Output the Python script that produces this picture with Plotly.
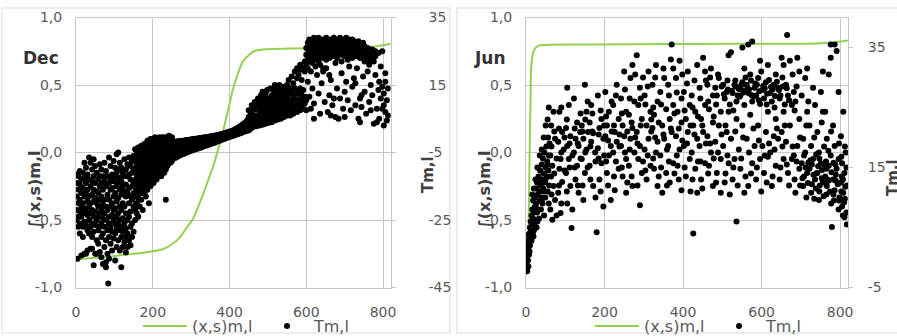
import plotly.graph_objects as go

W, H = 897, 343   # page window is 336 tall; the bottom strip (legend) is cut off as in the reference

# ---------------- data ----------------
x_ticks = [0, 200, 400, 600, 800]
left_ticks = [-1.0, -0.5, 0.0, 0.5, 1.0]
left_tick_text = ["-1,0", "-0,5", "0,0", "0,5", "1,0"]
dec_right_ticks = [-45, -25, -5, 15, 35]
jun_right_ticks = [-5, 15, 35]

# green curve  (x,s)m,l  (left axis)
dec_line_x = [0, 60, 130, 180, 227, 250, 270, 290, 305, 320, 335, 350, 360, 370, 380,
              390, 400, 410, 420, 436, 450, 462, 480, 500, 560, 640, 720, 760, 790, 820]
dec_line_y = [-0.79, -0.778, -0.756, -0.74, -0.715, -0.68, -0.63, -0.55, -0.49, -0.39,
              -0.28, -0.16, -0.08, 0.02, 0.12, 0.24, 0.36, 0.48, 0.57, 0.68, 0.72, 0.748,
              0.76, 0.765, 0.77, 0.772, 0.775, 0.778, 0.79, 0.806]

jun_line_x = [0, 3, 5.5, 7, 8.5, 10, 11.5, 12.7, 15, 18.6, 24, 31, 50, 150, 350, 550,
              740, 780, 820]
jun_line_y = [-0.88, -0.82, -0.7, -0.45, -0.15, 0.15, 0.38, 0.6, 0.69, 0.744, 0.775,
              0.79, 0.797, 0.8, 0.803, 0.806, 0.808, 0.815, 0.83]

# black dots Tm,l (right axis), grouped as (x, [values at that x])
dec_dot_groups = [
    (2, [-11.5, -14, -18, -22, -25]), (4, [-36.5]), (6, [-12, -16, -20, -24, -27]),
    (10, [-10.5, -14.5, -19, -22.5, -26, -29]), (14, [-13, -17, -21, -24, -35.5]),
    (18, [-11, -15.5, -20, -23, -27, -30]), (22, [-8, -12.5, -18, -21.5, -25.5, -35]),
    (26, [-9.5, -14, -17, -22, -26.5, -35]), (30, [-11.5, -16, -19.5, -23.5, -28, -34]),
    (34, [-6.5, -13, -18, -21, -25, -29]), (38, [-8, -15, -20, -23, -27, -33.5]),
    (42, [-10, -13.5, -17.5, -22, -26, -30, -33.5]), (46, [-7, -12, -16, -19.5, -24, -28.5, -38.4]),
    (50, [-9, -14, -18.5, -22.5, -26.5, -35]), (54, [-11, -16.5, -20, -25, -31, -35]),
    (58, [-13, -17, -21, -24, -28, -32]), (62, [-8.5, -12, -15, -19, -23, -27, -34.5]),
    (66, [-10, -14, -18, -22, -26, -30, -36]), (70, [-12, -16, -20.5, -24.5, -29, -38]),
    (74, [-8, -13.5, -19, -23, -27, -33]), (78, [-10.5, -15, -21, -25, -31, -39, -37.5]),
    (82, [-12, -17.5, -22, -28, -35]), (84, [-43.8]), (86, [-6.5, -14, -19, -24, -26, -30, -36.5]),
    (90, [-9, -13, -16, -21, -27, -32]), (94, [-11.5, -15.5, -20, -23.5, -28.5, -34]),
    (98, [-7.5, -13.5, -18, -22, -25, -30.5]), (102, [-9.5, -12.5, -17, -21.5, -26, -29, -37]),
    (106, [-5.5, -11, -15, -19.5, -24, -27.5, -33]), (110, [-5, -10, -14, -18.5, -23, -26.5, -31]),
    (114, [-8, -12.5, -16, -21, -25, -28, -34]), (118, [-9.5, -13.5, -17.5, -22, -27, -30, -39]),
    (122, [-11, -15, -20, -24.5, -28.5, -33]), (126, [-7, -12, -16.5, -21, -26, -31.5]),
    (130, [-10, -14.5, -18, -23, -27.5, -30, -34.6]), (134, [-8.5, -12, -17, -25, -29, -33]),
    (138, [-6.5, -11.5, -15.5, -20, -24, -31]), (142, [-9, -13, -18, -22.5, -27, -32.5]),
    (146, [-7.5, -11, -15, -19, -26, -30]), (150, [-6, -10, -14, -17, -21, -28.5]),
    (154, [-4, -7.5, -11, -14.5, -18, -22, -25]), (156, [-6, -9.5, -13, -16.5, -20.5]),
    (158, [-5.5, -9, -12.5, -16, -20, -23]), (160, [-4.5, -7, -10, -13.5, -17, -21]),
    (162, [-3.5, -8, -11.5, -15, -18.5, -24]), (164, [-5, -8, -11, -14, -19]),
    (166, [-6, -9.5, -13, -17, -21]), (168, [-4.5, -7.5, -11, -14.5]),
    (170, [-3, -6, -9, -12, -15.5, -19]), (172, [-4, -7.5, -10.5, -13.5, -17]),
    (174, [-4.5, -7.5, -10.5, -14, -17, -22]), (176, [-3.5, -6.5, -9.5, -12.5]),
    (178, [-2.5, -6, -9, -12, -15.5]), (180, [-4.5, -7, -10.5, -13.5, -16.5]),
    (182, [-3.5, -5.5, -8, -11, -14, -18]), (184, [-2.5, -6.5, -9.5, -12.5]),
    (186, [-1.5, -4.5, -7, -9.5, -12.5, -16]), (188, [-3, -6, -8.5, -11, -14.5]),
    (190, [-2.5, -5, -7.5, -10, -13, -20]), (192, [-2, -4.5, -7, -9, -12]),
    (194, [-1, -3.5, -6, -8.5, -11.5, -15]), (196, [-3, -5.5, -8, -10.5, -13.5]),
    (198, [-2, -4.5, -7, -9.5, -12.5]), (200, [-1, -3, -6, -8.5, -11]),
    (202, [-1.5, -3.5, -5.5, -8, -10.5, -14]), (204, [-2.5, -4.5, -6.5, -9]),
    (206, [-0.5, -2.5, -4.5, -7, -9.5, -12]), (208, [-1.5, -3.5, -6, -8.5, -11]),
    (210, [-1.5, -3.5, -5.5, -7.5, -10, -13]), (212, [-2, -4.5, -6.5, -8.5]),
    (214, [-1, -3, -5, -7, -9, -11.5]), (216, [-1.5, -3.5, -5.5, -8, -10]),
    (218, [-0.5, -2.5, -4.5, -6.5, -8.5, -11]), (220, [-2, -4, -6, -8]),
    (222, [-1, -3, -5, -7, -9, -12]), (224, [-1.5, -3.5, -5.5, -7.5, -9.5]),
    (226, [-0.5, -2, -4, -6, -8, -10.5]), (228, [-1.5, -3, -5, -7]),
    (230, [-1, -2.5, -4.5, -6.5, -8.5, -11]), (232, [-1.5, -3.5, -5.5, -7.5, -9.5]),
    (234, [-0.5, -2, -4, -6, -8, -10, -19]), (236, [-1.5, -3.5, -5, -7]),
    (238, [-1, -3, -5, -7, -9]), (240, [-0.5, -2.5, -4.5, -6.5, -8.5]),
    (242, [0, -1.5, -3.5, -5.5, -7.5]), (244, [-1.5, -3, -5, -7]),
    (246, [-1, -2.5, -4.5, -6.5, -8]), (248, [-1, -3, -4.5, -6.5]),
    (250, [-0.5, -2, -3.5, -5.5, -7.5]),
    (254, [-6.8, -5.7, -4.6, -3.4, -2.2]), (258, [-6.6, -5.4, -4.3, -3.3, -2.3]),
    (262, [-6.4, -5.2, -4.1, -2.9, -1.7]), (266, [-6.1, -5, -3.9, -3, -2]),
    (270, [-5.9, -4.8, -3.7, -2.6, -1.6]), (274, [-5.6, -4.6, -3.6, -2.7, -1.8]),
    (278, [-5.5, -4.4, -3.4, -2.4, -1.5]), (282, [-5.3, -4.3, -3.3, -2.4, -1.6]),
    (286, [-5.1, -4.1, -3.1, -2.2, -1.3]), (290, [-4.9, -4, -3, -2.2, -1.5]),
    (294, [-4.7, -3.7, -2.8, -2, -1.2]), (298, [-4.5, -3.6, -2.7, -2, -1.3]),
    (302, [-4.4, -3.4, -2.5, -1.7, -1]), (306, [-4.2, -3.3, -2.4, -1.7, -1.1]),
    (310, [-4.1, -3.2, -2.3, -1.6, -0.9]), (314, [-3.9, -3, -2.2, -1.6, -1]),
    (318, [-3.8, -2.9, -2, -1.4, -0.8]), (322, [-3.6, -2.7, -1.9, -1.3, -0.7]),
    (326, [-3.5, -2.6, -1.8, -1.3, -0.8]), (330, [-3.3, -2.5, -1.7, -1.1, -0.6]),
    (334, [-3.1, -2.3, -1.6, -1, -0.5]), (338, [-3, -2.2, -1.5, -1, -0.6]),
    (342, [-2.8, -2.1, -1.4, -0.9, -0.4]), (346, [-2.7, -2, -1.3, -0.8, -0.4]),
    (350, [-2.5, -1.8, -1.2, -0.7, -0.2]), (354, [-2.3, -1.7, -1.1, -0.6, -0.2]),
    (358, [-2.2, -1.6, -1, -0.5, 0]), (362, [-2, -1.4, -0.9, -0.4, 0]),
    (366, [-1.8, -1.3, -0.8, -0.3, 0.1]), (370, [-1.7, -1.2, -0.7, -0.2, 0.2]),
    (374, [-1.5, -1, -0.6, -0.1, 0.3]), (378, [-1.3, -0.8, -0.4, 0, 0.4]),
    (382, [-1.1, -0.7, -0.3, 0.1, 0.5]), (386, [-1, -0.5, -0.1, 0.3, 0.7]),
    (390, [-0.8, -0.3, 0.1, 0.5, 0.8]), (394, [-0.6, -0.2, 0.2, 0.6, 1]),
    (398, [-0.4, 0, 0.4, 0.8, 1.1]), (402, [-0.3, 0.1, 0.5, 0.9, 1.3]),
    (406, [-0.1, 0.3, 0.7, 1.1, 1.4]), (410, [0, 0.4, 0.8, 1.2, 1.6]),
    (414, [0.2, 0.6, 1, 1.4, 1.8]), (418, [0.3, 0.8, 1.2, 1.7, 2.1]),
    (422, [0.5, 1, 1.4, 1.9, 2.3]), (426, [0.6, 1.1, 1.6, 2.1, 2.6]),
    (430, [0.8, 1.3, 1.8, 2.4, 2.9]), (434, [1, 1.5, 2.1, 2.7, 3.3]),
    (438, [1.2, 1.8, 2.3, 3, 3.6]), (442, [1.3, 2, 2.6, 3.3, 4]),
    (446, [1.6, 2.2, 2.9, 3.7, 4.5]), (450, [1.5, 3.5, 5.5, 7.5]),
    (454, [2, 4, 6]), (458, [2.3, 4.5, 7, 9]), (462, [2.6, 5, 7.5]),
    (466, [3, 4, 6, 8.5, 10]), (470, [2.8, 5.5, 8]), (474, [3.5, 6, 9, 11]),
    (478, [3, 4.5, 7, 10]), (482, [3.8, 6, 8.5, 12]), (486, [3.2, 5, 7.5, 10.5, 13]),
    (490, [4, 6.5, 9, 11.5]), (494, [3.5, 5.5, 8, 12.5]), (498, [4.2, 7, 10, 13.5]),
    (502, [3.8, 6, 8.5, 11]), (506, [4.5, 7.5, 10.5, 14]), (510, [4, 6, 9, 12]),
    (514, [5, 8, 11, 13.5]), (518, [4.5, 6.5, 9.5, 12.5, 15]), (522, [5.2, 7.5, 10, 14]),
    (526, [4.8, 8.5, 11.5, 13]), (530, [5.5, 7, 9.5, 12.5, 15]), (534, [5, 8, 10.5, 14]),
    (538, [6, 7.5, 11, 13]), (542, [5.5, 9, 12, 14.5]), (546, [6.5, 8, 10, 13.5]),
    (550, [6, 8.5, 11.5, 15]), (554, [7, 9.5, 12.5, 16.5]), (558, [6, 8, 10.5, 14]),
    (562, [7.5, 10, 13, 17.5]), (566, [6.5, 9, 11.5, 15.5]), (570, [8, 11, 14, 19]),
    (576, [7, 9.5, 12.5, 17, 20]), (580, [8.5, 10.5, 13, 18]), (584, [7.5, 11, 14, 19.5, 21]),
    (588, [9, 12, 16.5]), (592, [8, 10, 13.5, 20]), (596, [9.5, 11.5, 19, 22]),
    (600, [7.5, 10.5, 21, 24, 26]),
    (604, [23, 25.5, 27.5, 20, 16]), (608, [22, 24.5, 26.5, 28.5, 11.5]),
    (612, [23.5, 26, 28, 19, 8]), (616, [21.5, 24, 27, 14]), (620, [22.5, 25, 27.5, 29, 9.5, 5]),
    (624, [24, 26.5, 28.5, 20.5]), (628, [23, 25.5, 28, 18]), (632, [22, 24.5, 27, 29, 12.5]),
    (636, [23.5, 26, 28.5, 21, 6.5]), (640, [24.5, 27, 28, 15.5]), (644, [23, 25.5, 28.5, 20, 19]),
    (648, [24, 26.5, 28, 10]), (652, [22.5, 25, 27.5, 29, 20]), (656, [24, 26, 28.5, 7]),
    (660, [23, 25.5, 27.5, 18, 12]), (664, [24.5, 27, 28.5, 16.5, 6]), (668, [23.5, 26, 28, 9]),
    (672, [25, 27, 29, 11]), (676, [24, 26.5, 28.5, 21.5, 5.5]), (680, [23, 25.5, 28, 14]),
    (684, [24.5, 27, 28.5, 5]), (688, [25.5, 27.5, 29, 11]), (692, [24, 26.5, 28, 22, 18.5]),
    (696, [25, 27, 28.5, 8]), (700, [23.5, 26, 28, 13, 5.5]), (704, [24.5, 27, 29, 16]),
    (708, [25.5, 27.5, 22.5, 10.5]), (712, [24, 26.5, 28.5, 20.5]), (716, [25, 27, 28, 7.5]),
    (720, [23, 25.5, 27.5, 28.5, 14.5]), (724, [24.5, 26.5, 28, 17]), (728, [23.5, 26, 27.5, 9, 15.5]),
    (732, [25, 27, 20]), (736, [24, 26, 28, 5]), (740, [23, 25.5, 27, 11, 4]),
    (744, [24.5, 26.5, 8.5, 12]), (748, [23, 25, 27.5, 17.5]), (752, [22, 24.5, 26.5, 13]),
    (756, [23.5, 25.5, 6.5]), (760, [22.5, 24.5, 26, 19]), (764, [21, 23.5, 25.5, 10]),
    (768, [22.5, 24.5, 15, 7.5]), (772, [23.5, 25.5, 12]), (776, [22, 24.5, 3.5]),
    (780, [23.5, 25, 18]), (784, [8, 4]), (788, [13.5, 24.5]), (790, [16, 5]),
    (794, [20.5, 11]), (798, [14.5, 8, 25]), (802, [3, 9, 12.5]), (806, [16, 18.5, 7]),
    (810, [4.5, 10.5]), (813, [14, 6]),
]

jun_dot_groups = [
    (1, [-2, -1]), (2, [0.5]), (3, [0, -2.3]), (4, [1]), (5, [-0.5, 2]), (6, [1.5, -1.5, 3.8]),
    (7, [3]), (8, [0.5, 2.5]), (9, [4, 1]), (10, [2, 5]), (11, [3.5]), (12, [6, 3]),
    (13, [4.5]), (14, [2.8, 7]), (15, [5.5]), (16, [8, 5.5, 10.5]), (17, [4]),
    (18, [6.5, 9.5]), (19, [3.5]), (20, [7.5, 4.5, 11.5]), (21, [5.5]), (22, [10]),
    (23, [8.5]), (24, [6, 8.5, 13]), (25, [11.5]), (26, [9]), (27, [5]), (28, [7.5, 12.5]),
    (29, [6, 15]), (30, [10.5]), (31, [8]), (32, [13.5]), (33, [6.5]), (34, [11]),
    (35, [9.5, 12.5, 17]), (36, [14.5]), (37, [12]), (38, [8]), (39, [10]),
    (40, [15.5, 9.5, 18]), (41, [13]), (42, [9]), (43, [16.5]), (44, [11.5]),
    (45, [14, 11, 20]), (46, [7]), (47, [17.5]), (48, [12.5]), (49, [10]),
    (50, [15, 13, 22]), (52, [18.5]), (53, [13.5]), (54, [16]), (55, [11, 15.5, 23]),
    (56, [20]), (57, [14.5]), (58, [17, 9, 25]), (59, [12]), (60, [19]),
    (62, [8, 17]), (64, [13.5, 22]), (65, [10.5, 18.5]), (67, [6.3, 15.3]),
    (70, [11.9, 24.3]), (72, [14, 21]), (74, [9.6, 19.8]), (78, [7, 16.5]),
    (82, [10.8, 19.3]), (84, [12, 21.5]), (85, [14.8, 24.3]), (88, [7.4, 16.4]),
    (90, [9, 17.5, 25]), (92, [12.6, 20.9]), (96, [18]), (98, [14.5, 20]),
    (102, [14.1, 21.6]), (104, [11, 23]), (105, [9, 18.6, 28.3]), (109, [16.4, 25.4]),
    (111, [15, 19]), (113, [11.9, 20.2]), (116, [4.9]), (118, [8, 17]),
    (122, [17.5, 26.5]), (124, [15, 21.5]), (126, [13, 19.8]), (130, [15.3, 22.5]),
    (132, [12, 19]), (134, [10.8, 18.6]), (138, [20.9]), (139, [16.5, 24]),
    (142, [16.4, 22]), (144, [12, 21]), (146, [9.6, 19.8]), (150, [14.1, 28.8]),
    (151, [17.5, 23]), (154, [18, 24.3]), (157, [15, 26]), (158, [20.9]),
    (162, [15.3, 22.5]), (164, [13, 18.5]), (166, [19.3, 25.4]), (169, [21, 24]),
    (171, [11.9, 20.7]), (176, [17.5]), (177, [10, 16]), (180, [4.2]),
    (183, [18.2, 27]), (185, [16.5, 20.5]), (187, [13, 21.6]), (190, [11, 24.5]),
    (192, [15.7, 23.1]), (197, [8.5, 19.8]), (199, [17, 22]),
    (202, [20.2, 27.6]), (204, [16, 23.5]), (206, [14.1, 22]), (209, [12, 19.5]),
    (211, [17, 24.3]), (216, [9.6, 18.6]), (218, [21, 26]),
    (222, [17.5, 25.4]), (224, [13.5, 22]), (226, [11.2, 20.9]), (229, [16, 27]),
    (231, [19.3, 28.8]), (236, [14.8, 23.1]), (238, [18.5, 20.5]),
    (242, [18.6, 26.5]), (244, [15, 24]), (246, [13.5, 22]), (250, [20.2, 31]),
    (252, [17.5, 28]), (255, [10.8, 16.4, 24.3]), (258, [12.5, 21]),
    (262, [15.3, 23.8]), (264, [18, 26.5]), (266, [19.8, 29.9]), (269, [13.5, 22.5]),
    (271, [11.9, 21.6, 32.1]), (276, [17.5, 26]), (278, [20, 30.5]),
    (282, [20.9, 33.7]), (284, [12, 19]), (286, [16.4, 25.4]), (290, [8.7, 18.6, 28.3]),
    (292, [22, 26.5]), (295, [14.1, 23.1]), (298, [16, 30]),
    (302, [18, 27]), (304, [14.5, 25.5]), (307, [13, 22]), (310, [17, 28.5]),
    (312, [19.8, 31]), (317, [15.3, 24.3]), (319, [21, 23]),
    (322, [21.6, 28.8]), (324, [16.5, 25]), (326, [14.8, 23.8]), (329, [20, 30]),
    (331, [17.5, 32.1]), (335, [11.9, 19.3, 26]), (338, [13.5, 22.5]),
    (342, [17, 27.6]), (344, [15, 25.5]), (347, [10.8, 22]), (350, [20.5, 31.5]),
    (352, [19.8, 29.9]), (357, [14.1, 24.7]), (359, [12, 18]),
    (362, [18.6, 28.8]), (364, [16, 27]), (366, [12.5, 23.1]), (369, [21.5, 33]),
    (371, [20.9, 35.5]), (375, [15.7, 25.4, 31.5]), (378, [14, 24]),
    (382, [20.2, 29.9]), (384, [17, 27.5]), (386, [15.3, 24.3]), (389, [13, 21.5]),
    (391, [18, 32.8]), (396, [11.2, 22.5, 26.5]), (398, [19.5, 30.5]),
    (402, [18.6, 27.6]), (404, [15, 24.5]), (407, [13.5, 23.1]), (410, [19, 29]),
    (412, [20.9, 31]), (417, [16.4, 25.4]), (419, [11, 22]),
    (422, [17.5, 27]), (424, [13, 25]), (426, [4, 22]), (429, [20.5, 29.5]),
    (431, [14.8, 24.3]), (436, [10.8, 19.8, 32.1]), (438, [16, 23.5]),
    (442, [18.6, 28.3]), (444, [16, 26.5]), (446, [13, 23.1]), (449, [11.5, 22]),
    (451, [20.9, 33.3]), (456, [15.7, 25.4, 31]), (458, [19, 29.5]),
    (462, [20.2, 28.8]), (464, [14, 26]), (466, [15.3, 24.7]), (469, [19, 30]),
    (471, [17.5, 31.5]), (476, [11.9, 22.5, 27]), (478, [16.5, 23.5]),
    (482, [19.3, 28.3]), (484, [12.5, 25.5]), (486, [14.1, 27]), (489, [17.5, 30.5]),
    (491, [22, 29.9]), (496, [10.8, 16.4, 24.3]), (498, [20.5, 28.5]),
    (502, [18.6, 28.8]), (504, [27.2]), (506, [12.5, 26.5]), (508, [14, 22]),
    (511, [20.9, 27.6]), (513, [17, 29.5]), (514, [28]), (516, [15.7, 24.3, 33.7]),
    (519, [10.5, 25.5]), (522, [19.8, 34.2]), (524, [27.8]), (526, [13, 27.4]),
    (528, [15, 24.5]), (531, [16.4, 28.8]), (533, [21, 29.5]), (534, [28.5]),
    (536, [6, 23.1, 26]), (539, [12, 27]), (542, [18, 28.1]), (544, [26.8]),
    (546, [14.8, 27]), (548, [16.5, 28.7]), (551, [22, 29.2, 35]), (553, [20, 27.8]),
    (554, [27.5]), (556, [10.8, 25.4, 31.5]), (559, [13.5, 30]),
    (562, [19.8, 28.8]), (564, [28.2]), (566, [11.9, 27.4, 35.5]), (568, [17.5, 28]),
    (571, [23.8, 30.5]), (573, [14, 29.5]), (574, [27.1]), (576, [15.7, 26, 36]),
    (579, [21.5, 26.8]), (582, [18.6, 28.3]), (584, [29]), (586, [13, 27]),
    (588, [15, 28.8]), (591, [22, 29.9]), (593, [19.5, 26.2]), (594, [27.7]),
    (596, [16.4, 25.6, 32.8]), (599, [11, 31]), (602, [18.6, 27.9]), (604, [28.6]),
    (606, [14.1, 26.5]), (608, [17, 28.2]), (611, [20.9, 29.2]), (613, [12.5, 25.5]),
    (614, [27.3]), (616, [16.8, 24.3, 32.1]), (619, [19, 29.6]), (622, [17.5, 27.4]),
    (624, [28.4]), (626, [11.9, 26]), (628, [13.5, 28]), (631, [20.2, 28.8]),
    (633, [18, 25]), (634, [26.9]), (636, [15.3, 23.1, 30.5]), (639, [21.5, 29.3]),
    (642, [19.8, 28.3]), (644, [27.9]), (646, [13, 26.5]), (648, [15, 27]),
    (651, [20.9, 33.3]), (653, [18.5, 30]), (654, [28.5]), (656, [16.4, 24.3, 32.1]),
    (659, [22, 25.5]), (662, [19.3, 28.8]), (664, [15.5, 28.2]), (665, [37.1]),
    (667, [14.1, 27]), (670, [12, 26.2]), (672, [22, 32.8]), (677, [16.4, 25.4]),
    (679, [18.5, 30.5]), (682, [17, 27.6]), (684, [13, 24.5]), (686, [10.8, 26]),
    (689, [16, 28.5]), (691, [18.6, 33.3]), (696, [14.8, 23.1, 31]), (698, [12, 20]),
    (702, [15.7, 27]), (704, [13.2]), (706, [11.9, 19.8]), (708, [13.5, 17]),
    (711, [17.5, 29.9]), (712, [15]), (714, [10, 22]), (716, [14.1, 24.3, 31.5]),
    (718, [12.4]), (719, [15.8, 26]), (722, [14.8, 22]), (724, [16.2]),
    (726, [10.8, 18.6]), (728, [12.2, 15.5]), (731, [16.4, 28.3]), (732, [13.8]),
    (734, [9.8, 20]), (736, [13, 25.4]), (738, [11.5]), (739, [14, 17.2]),
    (742, [14.1, 20.9]), (744, [15.2]), (746, [9.6, 17.5]), (747, [11, 16.5]),
    (748, [12]), (751, [15.7, 27.6]), (753, [13.2, 22.5]), (754, [14.6]),
    (756, [12.5, 24.3, 31]), (758, [10.2]), (759, [15.5, 18.5]), (762, [13.5, 24.3]),
    (764, [16]), (765, [10.5, 14.8]), (766, [11.9, 19.8]), (768, [13]),
    (770, [12.8, 17.8]), (771, [15.3, 30.5]), (774, [11]), (776, [17, 33.3, 35.5]),
    (777, [9, 21]), (778, [14.2]), (779, [5.1]), (782, [13, 22]), (783, [10.5, 15.8]),
    (784, [9.5]), (786, [11.2, 18.6, 35.5]), (788, [15.5]), (789, [12.8, 13.8]),
    (791, [14.8, 34.4]), (794, [12.2]), (796, [8, 16.4, 27.6]), (797, [9.5, 19]),
    (798, [10]), (802, [12.5, 20.2]), (803, [11, 16.8]), (804, [13.5]),
    (805, [8.5, 15.7]), (807, [7, 13]), (808, [10.8, 24.3]), (810, [9.2]),
    (811, [6.7, 14.1]), (812, [9.8, 18.5]), (813, [11.8]), (814, [17.5]),
    (816, [7.5, 15]), (817, [5.5, 12]),
]


def unpack(groups):
    xs, ys = [], []
    for gx, vals in groups:
        for v in vals:
            xs.append(gx)
            ys.append(v)
    return xs, ys


dec_x, dec_t = unpack(dec_dot_groups)
jun_x, jun_t = unpack(jun_dot_groups)

# ---------------- styling helpers ----------------
def px(v):
    return v / W


def py(v):
    return 1 - v / H


GREEN = "#92D050"
GRID = "#c6c6c6"
FONT = "DejaVu Sans"
TICK_FONT = dict(family=FONT, size=14, color="#595959")
DOT = 6

fig = go.Figure()
fig.add_trace(go.Scatter(x=dec_line_x, y=dec_line_y, mode="lines", name="(x,s)m,l",
                         line=dict(color=GREEN, width=2, shape="spline"),
                         xaxis="x", yaxis="y", legend="legend"))
fig.add_trace(go.Scatter(x=dec_x, y=dec_t, mode="markers", name="Tm,l",
                         marker=dict(color="black", size=DOT),
                         xaxis="x", yaxis="y2", legend="legend"))
fig.add_trace(go.Scatter(x=jun_line_x, y=jun_line_y, mode="lines", name="(x,s)m,l",
                         line=dict(color=GREEN, width=2, shape="spline"),
                         xaxis="x2", yaxis="y3", legend="legend2"))
fig.add_trace(go.Scatter(x=jun_x, y=jun_t, mode="markers", name="Tm,l",
                         marker=dict(color="black", size=DOT),
                         xaxis="x2", yaxis="y4", legend="legend2"))

ydom = [py(287.5), py(17.5)]


def xax(dom, anchor):
    return dict(domain=dom, range=[0, 820], anchor=anchor, tickvals=x_ticks,
                showgrid=True, gridcolor=GRID, gridwidth=1, zeroline=False,
                showline=True, linecolor=GRID, mirror=True, ticks="",
                tickfont=TICK_FONT, ticklabelstandoff=12, automargin=False,
                fixedrange=True)


def yleft(anchor):
    return dict(domain=ydom, range=[-1, 1], anchor=anchor, tickvals=left_ticks,
                ticktext=left_tick_text, showgrid=True, gridcolor=GRID, zeroline=False,
                showline=True, linecolor=GRID, mirror=True, ticks="",
                tickfont=TICK_FONT, ticklabelstandoff=10, automargin=False,
                fixedrange=True)


def yright(overlay, anchor, rng, vals, standoff):
    return dict(overlaying=overlay, side="right", anchor=anchor, range=rng,
                tickvals=vals, ticktext=[str(v) for v in vals], showgrid=False,
                zeroline=False, showline=False, ticks="outside", ticklen=4,
                tickcolor=GRID, tickfont=TICK_FONT, ticklabelstandoff=standoff,
                automargin=False, fixedrange=True)


legend_common = dict(orientation="h", xanchor="left", yanchor="bottom", y=0,
                     font=dict(family=FONT, size=16, color="#595959"),
                     bgcolor="rgba(0,0,0,0)", itemwidth=44, traceorder="normal",
                     entrywidthmode="pixels", entrywidth=63)


def ann(text, x, y, size, color, angle=0):
    return dict(text=text, x=px(x), y=py(y), xref="paper", yref="paper",
                xanchor="center", yanchor="middle", textangle=angle, showarrow=False,
                font=dict(family=FONT, size=size, color=color))


fig.update_layout(
    width=W, height=H, margin=dict(l=0, r=0, t=0, b=0),
    paper_bgcolor="white", plot_bgcolor="white", template="none",
    showlegend=True,
    xaxis=xax([px(76), px(390.7)], "y"),
    yaxis=yleft("x"),
    yaxis2=yright("y", "x", [-45, 35], dec_right_ticks, 30),
    xaxis2=xax([px(526), px(848)], "y3"),
    yaxis3=yleft("x2"),
    yaxis4=yright("y3", "x2", [-5, 40], jun_right_ticks, 12),
    legend=dict(x=px(138), **legend_common),
    legend2=dict(x=px(590), **legend_common),
    shapes=[
        dict(type="rect", xref="paper", yref="paper", x0=px(2), x1=px(450),
             y0=py(333), y1=py(8), line=dict(color="#d9d9d9", width=1), layer="below"),
        dict(type="rect", xref="paper", yref="paper", x0=px(457), x1=px(905),
             y0=py(333), y1=py(8), line=dict(color="#d9d9d9", width=1), layer="below"),
    ],
    annotations=[
        ann("<b>Dec</b>", 41, 58, 17, "#333333"),
        ann("<b>Jun</b>", 490, 58, 17, "#333333"),
        ann("<b>∫(x,s)m,l</b>", 34, 190, 16, "#404040", -90),
        ann("<b>∫(x,s)m,l</b>", 484, 190, 16, "#404040", -90),
        ann("<b>Tm,l</b>", 428, 175, 15, "#404040", -90),
        ann("<b>Tm,l</b>", 893, 178, 15, "#404040", -90),
    ],
)

fig.write_html(
    "out.html",
    config={"displayModeBar": False},
    post_script="document.body.style.margin='0';document.body.style.overflow='hidden';",
)
